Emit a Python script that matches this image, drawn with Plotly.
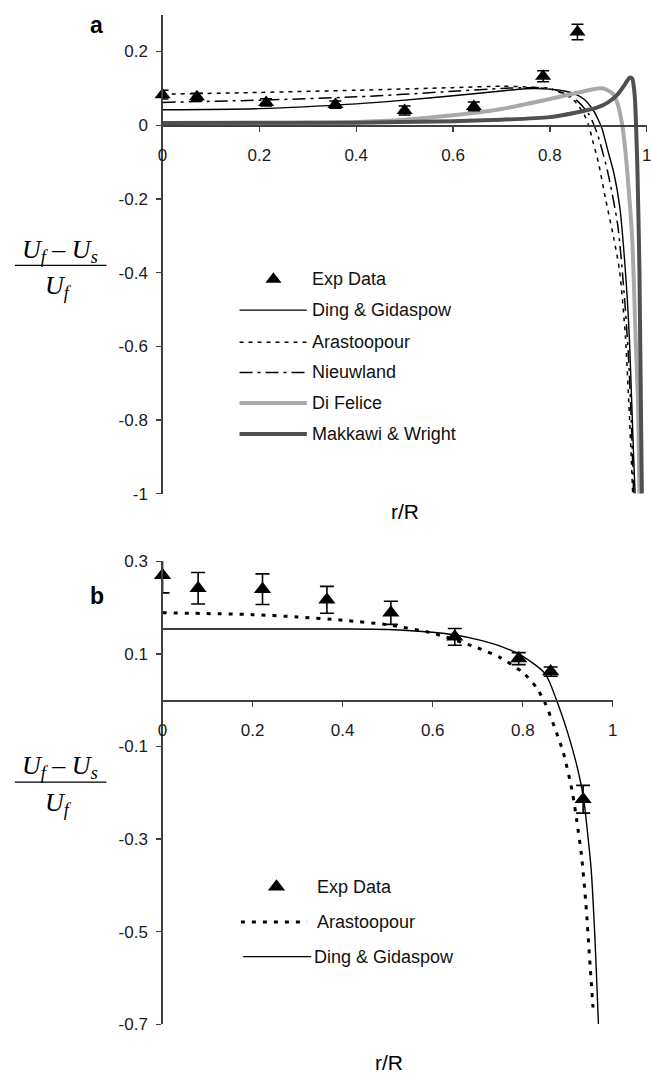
import plotly.graph_objects as go

# ---------------- Panel a data ----------------
a_exp_x = [0, 0.071, 0.214, 0.357, 0.5, 0.643, 0.786, 0.857]
a_exp_y = [0.083, 0.077, 0.062, 0.056, 0.040, 0.051, 0.133, 0.253]
a_exp_err = [0.012, 0.01, 0.01, 0.01, 0.012, 0.012, 0.015, 0.021]

a_ding_x = [0, 0.2, 0.4, 0.5, 0.6, 0.7, 0.75, 0.8, 0.83, 0.85, 0.87, 0.89, 0.9, 0.908,
            0.92, 0.932, 0.944, 0.956, 0.964, 0.969, 0.973, 0.976]
a_ding_y = [0.042, 0.045, 0.058, 0.068, 0.08, 0.093, 0.099, 0.098, 0.093, 0.086, 0.071,
            0.04, 0.015, -0.01, -0.07, -0.129, -0.218, -0.396, -0.573, -0.751, -0.9, -1.0]

a_ara_x = [0, 0.2, 0.4, 0.6, 0.7, 0.75, 0.8, 0.83, 0.85, 0.87, 0.88, 0.89, 0.9, 0.915,
           0.932, 0.944, 0.956, 0.963, 0.968, 0.971]
a_ara_y = [0.084, 0.089, 0.095, 0.102, 0.106, 0.104, 0.098, 0.084, 0.067, 0.031, 0.0,
           -0.05, -0.1, -0.2, -0.307, -0.396, -0.573, -0.751, -0.9, -1.0]

a_nie_x = [0, 0.2, 0.4, 0.6, 0.7, 0.75, 0.8, 0.84, 0.86, 0.88, 0.89, 0.9, 0.92, 0.94,
           0.953, 0.962, 0.968, 0.973]
a_nie_y = [0.062, 0.068, 0.077, 0.092, 0.1, 0.102, 0.1, 0.08, 0.062, 0.031, 0.004, -0.031,
           -0.13, -0.27, -0.45, -0.62, -0.8, -1.0]

a_dif_x = [0, 0.4, 0.5, 0.6, 0.7, 0.8, 0.85, 0.88, 0.9, 0.91, 0.93, 0.94, 0.95, 0.955,
           0.96, 0.97, 0.977, 0.982, 0.985]
a_dif_y = [0.004, 0.009, 0.015, 0.027, 0.044, 0.071, 0.086, 0.095, 0.1, 0.1, 0.086, 0.058,
           -0.004, -0.058, -0.129, -0.307, -0.573, -0.751, -1.0]

a_mak_x = [0, 0.4, 0.6, 0.7, 0.8, 0.85, 0.9, 0.92, 0.94, 0.955, 0.965, 0.97, 0.975, 0.978,
           0.981, 0.985, 0.99]
a_mak_y = [0.006, 0.007, 0.011, 0.015, 0.022, 0.033, 0.049, 0.062, 0.084, 0.111, 0.129,
           0.127, 0.084, 0.0, -0.129, -0.396, -1.0]

# ---------------- Panel b data ----------------
b_exp_x = [0, 0.079, 0.222, 0.365, 0.507, 0.649, 0.791, 0.862, 0.934]
b_exp_y = [0.27, 0.242, 0.240, 0.217, 0.189, 0.137, 0.090, 0.062, -0.214]
b_exp_err = [0.038, 0.034, 0.033, 0.029, 0.025, 0.018, 0.013, 0.01, 0.03]

b_ding_x = [0, 0.2, 0.4, 0.5, 0.6, 0.65, 0.7, 0.75, 0.8, 0.85, 0.875, 0.9, 0.92, 0.935,
            0.945, 0.952, 0.96, 0.966, 0.968]
b_ding_y = [0.154, 0.154, 0.154, 0.153, 0.147, 0.141, 0.131, 0.117, 0.095, 0.057, 0.0,
            -0.071, -0.141, -0.212, -0.297, -0.367, -0.509, -0.65, -0.7]

b_ara_x = [0, 0.2, 0.3, 0.4, 0.5, 0.6, 0.7, 0.75, 0.8, 0.83, 0.85, 0.87, 0.89, 0.91,
           0.92, 0.93, 0.94, 0.95, 0.956]
b_ara_y = [0.189, 0.185, 0.18, 0.173, 0.163, 0.145, 0.113, 0.092, 0.06, 0.028, -0.007,
           -0.057, -0.113, -0.198, -0.261, -0.332, -0.438, -0.58, -0.664]

# axis ticks
x_ticks = [0, 0.2, 0.4, 0.6, 0.8, 1]
x_tick_text = ["0", "0.2", "0.4", "0.6", "0.8", "1"]
a_y_ticks = [0.2, 0, -0.2, -0.4, -0.6, -0.8, -1]
a_y_tick_text = ["0.2", "0", "-0.2", "-0.4", "-0.6", "-0.8", "-1"]
b_y_ticks = [0.3, 0.1, -0.1, -0.3, -0.5, -0.7]
b_y_tick_text = ["0.3", "0.1", "-0.1", "-0.3", "-0.5", "-0.7"]

a_legend_names = ["Exp Data", "Ding & Gidaspow", "Arastoopour", "Nieuwland", "Di Felice",
                  "Makkawi & Wright"]
b_legend_names = ["Exp Data", "Arastoopour", "Ding & Gidaspow"]

# ---------------- layout geometry (pixels) ----------------
W, H = 652, 1082
A_RANGE = [-1, 0.3]
B_RANGE = [-0.7, 0.3]
a_left, a_right, a_top, a_bot = 160, 651.7, 5.8, 493.3
b_left, b_right, b_top, b_bot = 160, 617.3, 562.3, 1033.3


def dom_x(l, r):
    return [l / W, r / W]


def dom_y(t, b):
    return [1 - b / H, 1 - t / H]


def px_y(py):
    return 1 - py / H


a_ydom = dom_y(a_top, a_bot)
b_ydom = dom_y(b_top, b_bot)
a_xpos = a_ydom[0] + (0 - A_RANGE[0]) / (A_RANGE[1] - A_RANGE[0]) * (a_ydom[1] - a_ydom[0])
b_xpos = b_ydom[0] + (0 - B_RANGE[0]) / (B_RANGE[1] - B_RANGE[0]) * (b_ydom[1] - b_ydom[0])

FONT = "Liberation Sans, Arial, sans-serif"
SERIF = "Liberation Serif, Times New Roman, serif"
AXC = "#404040"

styles = {
    "ding": dict(color="black", width=1.4, dash="solid"),
    "ara": dict(color="black", width=1.5, dash="4px,5px"),
    "nie": dict(color="black", width=1.5, dash="13px,5px,3px,5px"),
    "dif": dict(color="#a9a9a9", width=4, dash="solid"),
    "mak": dict(color="#505050", width=4, dash="solid"),
    "ara_b": dict(color="black", width=3, dash="4px,7px"),
}

fig = go.Figure()

# panel a curves (black first, grey on top)
for xs, ys, key, name in [
    (a_ding_x, a_ding_y, "ding", "Ding & Gidaspow"),
    (a_nie_x, a_nie_y, "nie", "Nieuwland"),
    (a_ara_x, a_ara_y, "ara", "Arastoopour"),
    (a_dif_x, a_dif_y, "dif", "Di Felice"),
    (a_mak_x, a_mak_y, "mak", "Makkawi & Wright"),
]:
    fig.add_trace(go.Scatter(x=xs, y=ys, mode="lines", name=name, line=styles[key],
                             line_shape="spline", line_smoothing=0.7,
                             xaxis="x", yaxis="y", showlegend=False))

fig.add_trace(go.Scatter(
    x=a_exp_x, y=a_exp_y, mode="markers", name="Exp Data", cliponaxis=False,
    marker=dict(symbol="triangle-up", size=14, color="black"),
    error_y=dict(type="data", array=a_exp_err, color="black", thickness=1.5, width=6),
    xaxis="x", yaxis="y", showlegend=False))

# panel b curves
fig.add_trace(go.Scatter(x=b_ara_x, y=b_ara_y, mode="lines", name="Arastoopour",
                         line=styles["ara_b"], line_shape="spline", line_smoothing=0.7,
                         xaxis="x2", yaxis="y2", showlegend=False))
fig.add_trace(go.Scatter(x=b_ding_x, y=b_ding_y, mode="lines", name="Ding & Gidaspow",
                         line=styles["ding"], line_shape="spline", line_smoothing=0.7,
                         xaxis="x2", yaxis="y2", showlegend=False))
fig.add_trace(go.Scatter(
    x=b_exp_x, y=b_exp_y, mode="markers", name="Exp Data", cliponaxis=False,
    marker=dict(symbol="triangle-up", size=15, color="black"),
    error_y=dict(type="data", array=b_exp_err, color="black", thickness=1.6, width=7),
    xaxis="x2", yaxis="y2", showlegend=False))

tickfont = dict(family=FONT, size=17, color="#1a1a1a")
common_x = dict(tickvals=x_ticks, ticktext=x_tick_text, range=[0, 1], showgrid=False,
                zeroline=False, showline=True, linecolor=AXC, linewidth=1.3,
                ticks="outside", ticklen=5, tickcolor=AXC, tickwidth=1.3, tickfont=tickfont,
                ticklabelstandoff=9, anchor="free", side="bottom", fixedrange=True)
common_y = dict(showgrid=False, zeroline=False, showline=True, linecolor=AXC, linewidth=1.3,
                ticks="outside", ticklen=5, tickcolor=AXC, tickwidth=1.3, tickfont=tickfont,
                ticklabelstandoff=5, fixedrange=True)

fig.update_layout(
    width=W, height=H, margin=dict(l=0, r=0, t=0, b=0),
    paper_bgcolor="white", plot_bgcolor="white", showlegend=False,
    xaxis=dict(domain=dom_x(a_left, a_right), position=a_xpos, **common_x),
    yaxis=dict(domain=a_ydom, range=A_RANGE, tickvals=a_y_ticks, ticktext=a_y_tick_text,
               anchor="x", **common_y),
    xaxis2=dict(domain=dom_x(b_left, b_right), position=b_xpos, **common_x),
    yaxis2=dict(domain=b_ydom, range=B_RANGE, tickvals=b_y_ticks, ticktext=b_y_tick_text,
                anchor="x2", **common_y),
)

ann = []
shapes = []


def text_at(txt, px, py, font, xanchor="center"):
    ann.append(dict(text=txt, x=px / W, y=px_y(py), xref="paper", yref="paper",
                    xanchor=xanchor, yanchor="middle", showarrow=False, font=font))


# panel letters
text_at("<b>a</b>", 93, 16, dict(family=FONT, size=23, color="black"))
text_at("<b>b</b>", 93, 598, dict(family=FONT, size=23, color="black"))

# axis titles r/R
text_at("r/R", 406, 511, dict(family=FONT, size=21, color="black"))
text_at("r/R", 390, 1072, dict(family=FONT, size=21, color="black"))


# fraction y-titles
def fraction(cy):
    serif = dict(family=SERIF, size=26, color="black")
    text_at("<i>U<sub>f</sub> – U<sub>s</sub></i>", 56, cy - 15, serif)
    text_at("<i>U<sub>f</sub></i>", 54, cy + 22, serif)
    shapes.append(dict(type="line", xref="paper", yref="paper", x0=10 / W, x1=103 / W,
                       y0=px_y(cy), y1=px_y(cy), line=dict(color="black", width=1.3)))


fraction(261)
fraction(787)

# legend a (positions in panel-a data coordinates)
leg_font = dict(family=FONT, size=18, color="#111")
a_leg_y = [-0.418, -0.502, -0.589, -0.671, -0.754, -0.838]
a_leg_keys = [None, "ding", "ara", "nie", "dif", "mak"]
for name, yy, key in zip(a_legend_names, a_leg_y, a_leg_keys):
    ann.append(dict(text=name, x=0.305, y=yy, xref="x", yref="y", xanchor="left",
                    yanchor="middle", showarrow=False, font=leg_font))
    if key is not None:
        st = styles[key]
        shapes.append(dict(type="line", xref="x", yref="y", x0=0.159, x1=0.298, y0=yy, y1=yy,
                           line=dict(color=st["color"], width=st["width"], dash=st["dash"])))
fig.add_trace(go.Scatter(x=[0.229], y=[a_leg_y[0]], mode="markers", xaxis="x", yaxis="y",
                         marker=dict(symbol="triangle-up", size=14, color="black"),
                         showlegend=False, hoverinfo="skip"))

# legend b
b_leg_y = [-0.403, -0.479, -0.554]
b_leg_keys = [None, "ara_b", "ding"]
b_leg_tx = [0.338, 0.338, 0.331]
b_leg_line = [None, (0.174, 0.321), (0.179, 0.330)]
for name, yy, key, tx, ln in zip(b_legend_names, b_leg_y, b_leg_keys, b_leg_tx, b_leg_line):
    ann.append(dict(text=name, x=tx, y=yy, xref="x2", yref="y2", xanchor="left",
                    yanchor="middle", showarrow=False, font=leg_font))
    if key is not None:
        st = styles[key]
        shapes.append(dict(type="line", xref="x2", yref="y2", x0=ln[0], x1=ln[1], y0=yy, y1=yy,
                           line=dict(color=st["color"], width=st["width"], dash=st["dash"])))
fig.add_trace(go.Scatter(x=[0.253], y=[b_leg_y[0]], mode="markers", xaxis="x2", yaxis="y2",
                         marker=dict(symbol="triangle-up", size=15, color="black"),
                         showlegend=False, hoverinfo="skip"))

fig.update_layout(annotations=ann, shapes=shapes)
fig.write_html("out.html", config={"displayModeBar": False, "staticPlot": True},
               post_script="document.body.style.margin='0px';")
